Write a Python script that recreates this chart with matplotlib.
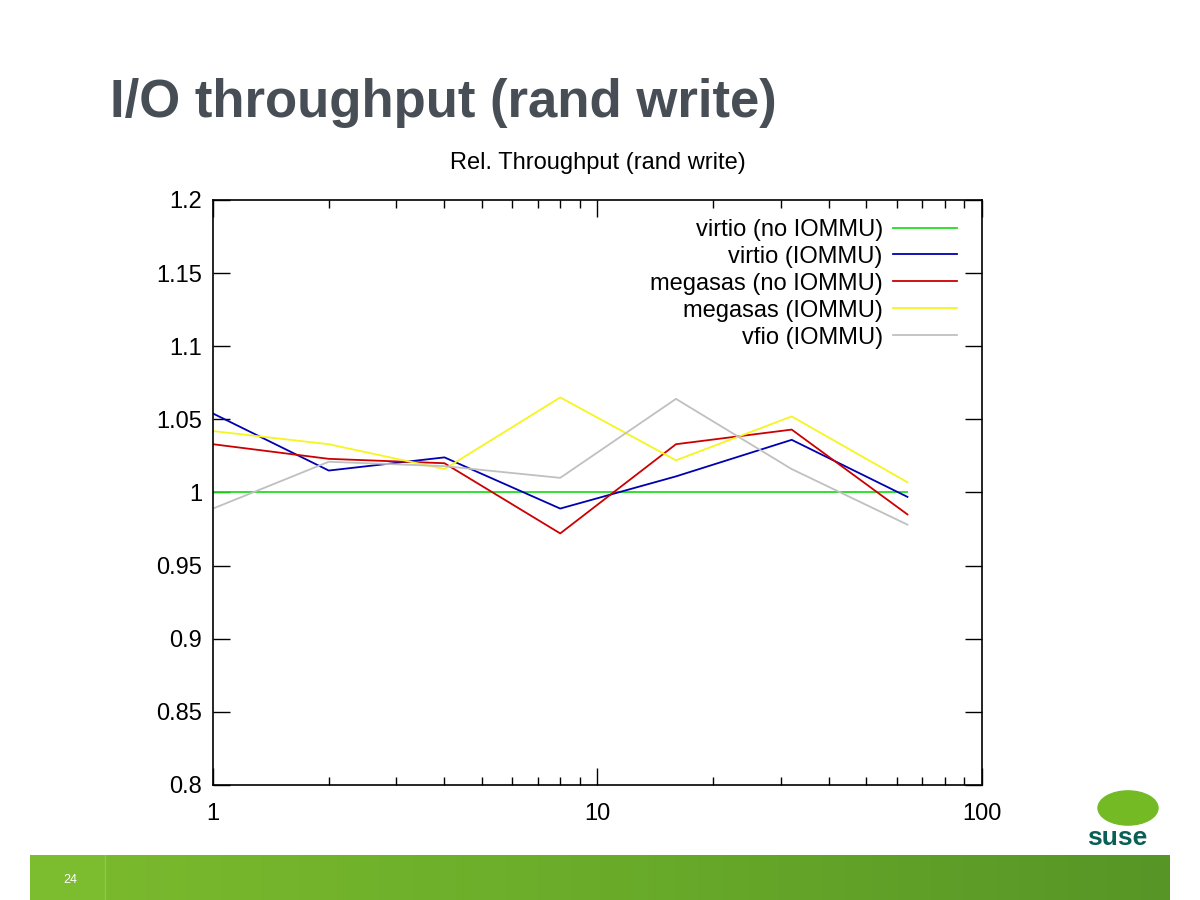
import matplotlib.pyplot as plt
import numpy as np
from matplotlib.patches import Rectangle, Ellipse
from matplotlib.ticker import FixedLocator, NullFormatter
from matplotlib.colors import LinearSegmentedColormap

plt.rcParams['font.family'] = ['Liberation Sans', 'DejaVu Sans']

# Data
queue_depth = [1, 2, 4, 8, 16, 32, 64]
virtio_no_iommu = [1.0, 1.0, 1.0, 1.0, 1.0, 1.0, 1.0]
virtio_iommu = [1.054, 1.015, 1.024, 0.989, 1.011, 1.036, 0.997]
megasas_no_iommu = [1.033, 1.023, 1.020, 0.972, 1.033, 1.043, 0.985]
megasas_iommu = [1.042, 1.033, 1.016, 1.065, 1.022, 1.052, 1.007]
vfio_iommu = [0.989, 1.021, 1.018, 1.010, 1.064, 1.016, 0.978]

series = [
    ("virtio (no IOMMU)", virtio_no_iommu, "#22dd22"),
    ("virtio (IOMMU)", virtio_iommu, "#0000b0"),
    ("megasas (no IOMMU)", megasas_no_iommu, "#cc0000"),
    ("megasas (IOMMU)", megasas_iommu, "#f5f520"),
    ("vfio (IOMMU)", vfio_iommu, "#c0c0c0"),
]

fig = plt.figure(figsize=(12, 9), dpi=100)

# slide title
fig.text(0.092, 0.886, "I/O throughput (rand write)", fontsize=38, fontweight='bold',
         color='#484e55', ha='left', va='center')

ax = fig.add_axes([0.1775, 0.1278, 0.6408, 0.65])
for label, vals, color in series:
    ax.plot(queue_depth, vals, color=color, lw=1.3, label=label)

ax.set_xscale('log')
ax.set_xlim(1, 100)
ax.set_ylim(0.8, 1.2)
ax.set_yticks(np.arange(0.8, 1.2001, 0.05))
ax.set_yticklabels(["0.8", "0.85", "0.9", "0.95", "1", "1.05", "1.1", "1.15", "1.2"])
ax.set_xticks([1, 10, 100])
ax.set_xticklabels(["1", "10", "100"])
ax.xaxis.set_minor_locator(FixedLocator([m * d for d in (1, 10) for m in range(2, 10)]))
ax.xaxis.set_minor_formatter(NullFormatter())
ax.tick_params(which='both', direction='in', top=True, right=True, labelsize=17)
ax.tick_params(axis='y', pad=8)
ax.tick_params(axis='x', pad=13)
ax.tick_params(which='major', length=12, width=1)
ax.tick_params(which='minor', length=6, width=1)
for s in ax.spines.values():
    s.set_linewidth(1.2)
ax.set_title("Rel. Throughput (rand write)", fontsize=17, pad=22)

ax.legend(loc='upper right', bbox_to_anchor=(0.98, 0.984), borderaxespad=0,
          frameon=False, markerfirst=False, fontsize=17,
          handlelength=2.7, handletextpad=0.45, labelspacing=0.21)

# footer bar with gradient
grad = np.linspace(0, 1, 256).reshape(1, -1)
cmap = LinearSegmentedColormap.from_list("g", ["#7cbb2e", "#6aac2a", "#579526"])
bar_ax = fig.add_axes([0.025, 0.0, 0.95, 0.05])
bar_ax.imshow(grad, aspect='auto', cmap=cmap, extent=[0, 1, 0, 1])
bar_ax.add_patch(Rectangle((0, 0), 0.065, 1, color='#7cbd30'))
bar_ax.axvline(0.066, color='#8fc84a', lw=1)
bar_ax.text(0.035, 0.45, "24", color='white', fontsize=9, ha='center', va='center')
bar_ax.set_axis_off()

# logo
fig.patches.append(Ellipse((1128 / 1200, 1 - 808 / 900), 0.05, 0.038,
                           transform=fig.transFigure, color='#73ba25', zorder=1))
fig.text(1117 / 1200, 1 - 838 / 900, "suse", fontsize=19, fontweight='bold',
         color='#0c5f57', ha='center', va='center')

fig.savefig("out.png", dpi=100)
